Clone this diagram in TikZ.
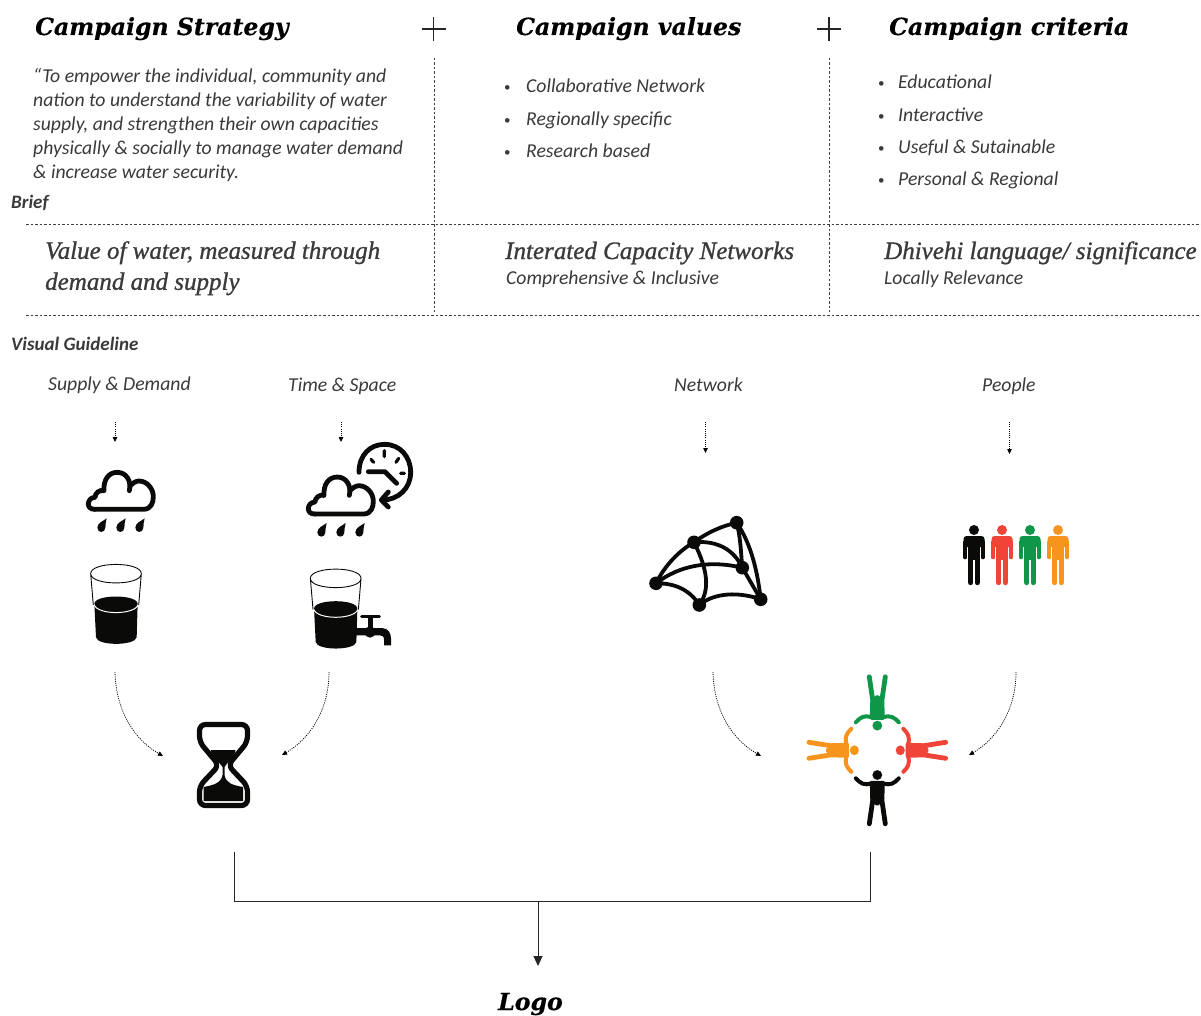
\documentclass[tikz,border=0pt]{standalone}
\usepackage{fontspec}
\setmainfont{Carlito}
\newfontfamily\headfont[FakeBold=0.4]{DejaVu Serif}
\newfontfamily\subfont[FakeBold=1]{Liberation Serif}
\usetikzlibrary{arrows.meta}
\definecolor{inkc}{HTML}{0A0A08}
\definecolor{txtc}{HTML}{3A3A3A}
\definecolor{pred}{HTML}{F04438}
\definecolor{pgreen}{HTML}{0F9648}
\definecolor{porange}{HTML}{F7941D}
\tikzset{
 headt/.style={anchor=base west,inner sep=0,text=black,font=\headfont\bfseries\itshape\fontsize{23.6}{26}\selectfont},
 subt/.style={anchor=base west,inner sep=0,text=txtc,font=\subfont\itshape\fontsize{25}{31}\selectfont,align=left},
 body/.style={anchor=base west,inner sep=0,text=txtc,font=\itshape\fontsize{19.7}{24}\selectfont,align=left},
 bullet/.style={anchor=base west,inner sep=0,text=txtc,font=\fontsize{13}{14}\selectfont},
 smallb/.style={anchor=base west,inner sep=0,text=txtc,font=\bfseries\itshape\fontsize{19}{20}\selectfont},
 rule/.style={draw=black!75,line width=0.7pt,dash pattern=on 2.5pt off 2pt},
 plusm/.style={draw=black!85,line width=1.8pt},
 dotarrow/.style={draw=black,line width=0.8pt,dash pattern=on 1pt off 1.2pt,-{Triangle[length=5pt,width=4.5pt,black,sep=0pt]}},
 bracket/.style={draw=black!85,line width=0.9pt},
 icon/.style={line width=4.8pt,draw=inkc,line cap=round,line join=round},
 glassl/.style={line width=0.9pt,draw=inkc},
 netl/.style={line width=3.8pt,draw=inkc},
}
% standing figure, head centre at #1,#2
\newcommand{\standman}[3]{\begin{scope}[shift={(#1,#2)}]
 \fill[#3] (0,0) circle (5);
 \fill[#3,rounded corners=3pt] (-10.5,17) -- (-10.5,6) -- (10.5,6) -- (10.5,17) -- cycle;
 \fill[#3] (-6,10) rectangle (6,30);
 \draw[#3,line width=3.6pt,line cap=round] (-8.75,12) -- (-8.75,27.5) (8.75,12) -- (8.75,27.5);
 \draw[#3,line width=5.4pt,line cap=round] (-3.3,28) -- (-3.3,52.5) (3.3,28) -- (3.3,52.5);
 \draw[white,line width=0.5pt] (0,33) -- (0,55);
 \end{scope}}
% figure of the ring, lying at the bottom before rotation
\newcommand{\ringman}[3]{\begin{scope}[shift={(877.3,750.3)},rotate=#1,yscale=#3]
 \fill[#2] (0,24.7) circle (4.9);
 \draw[#2,line width=4pt,line cap=round] (-21.5,28) .. controls (-17,33) and (-13,35.5) .. (-6,33) (21.5,28) .. controls (17,33) and (13,35.5) .. (6,33);
 \fill[#2,rounded corners=1.5pt] (-7.5,30.5) -- (7.5,30.5) -- (7,50) -- (0,56) -- (-7,50) -- cycle;
 \draw[#2,line width=4.8pt,line cap=round] (-4,46) -- (-8,73.5) (4,46) -- (8,73.5);
 \end{scope}}
% cloud in zoom units
\newcommand{\cloudicon}[2]{\begin{scope}[shift={(#1,#2)},scale=1/3]
 \draw[icon] (165,268) -- (310,268) .. controls (335,268) and (340,245) .. (340,230) .. controls (340,205) and (320,183) .. (297,183) .. controls (287,183) and (278,190) .. (270,197);
 \draw[icon] (268,212) .. controls (275,185) and (260,157) .. (232,157) .. controls (205,157) and (190,180) .. (192,212) .. controls (178,208) and (165,220) .. (165,232) .. controls (150,232) and (145,245) .. (145,252) .. controls (145,262) and (152,268) .. (165,268);
 \foreach \dx in {0,57,114}{
 \fill[inkc,shift={(\dx,0)}] (200,295) .. controls (192,302) and (172,308) .. (172,323) .. controls (172,340) and (196,340) .. (196,323) .. controls (196,312) and (198,305) .. (200,295) -- cycle;}
 \end{scope}}
% glass in zoom units
\newcommand{\glassicon}[2]{\begin{scope}[shift={(#1,#2)},scale=1/3]
 \fill[inkc] (163,552) .. controls (163,522) and (293,522) .. (293,552) -- (290,652) .. controls (285,678) and (172,678) .. (168,652) -- cycle;
 \draw[white,line width=1pt] (162,553) .. controls (170,586) and (286,586) .. (295,553);
 \draw[glassl] (152,461) .. controls (152,424) and (304,424) .. (304,461) .. controls (304,498) and (152,498) .. (152,461) -- (160,555) (304,461) -- (296,555);
 \end{scope}}
\begin{document}
\begin{tikzpicture}[x=1pt,y=-1pt]
\useasboundingbox (0,0) rectangle (1201,1016);
% headings
\node[headt] (h1) at (35,35) {Campaign Strategy};
\node[headt] (h2) at (516,35) {Campaign values};
\node[headt] (h3) at (889,35) {Campaign criteria};
\coordinate (p1) at (433.5,29);
\coordinate (p2) at (829,29);
\draw[plusm] ([xshift=-12pt]p1) -- ([xshift=12pt]p1) ([yshift=-12pt]p1) -- ([yshift=12pt]p1);
\draw[plusm] ([xshift=-12pt]p2) -- ([xshift=12pt]p2) ([yshift=-12pt]p2) -- ([yshift=12pt]p2);
% strategy quote
\node[body,anchor=north west] (quote) at (33,68) {“To empower the individual, community and\\nation to understand the variability of water\\supply, and strengthen their own capacities\\physically \& socially to manage water demand\\\& increase water security.};
% values
\foreach \n/\y/\t in {a/93/Collaborative Network,b/126/Regionally specific,c/158/Research based}{
 \node[body] (v\n) at (526,\y) {\t};
 \node[bullet] (vb\n) at (504,\y-1.5) {•};}
\foreach \n/\y/\t in {a/89/Educational,b/122/Interactive,c/154/Useful \& Sutainable,d/186/Personal \& Regional}{
 \node[body] (c\n) at (898,\y) {\t};
 \node[bullet] (cb\n) at (878,\y-1.5) {•};}
\node[smallb] (brief) at (11,209) {Brief};
% rules
\coordinate (r1a) at (26,224); \coordinate (r1b) at (1201,224);
\coordinate (r2a) at (26,315); \coordinate (r2b) at (1201,315);
\coordinate (v1a) at (434,58); \coordinate (v1b) at (434,312);
\coordinate (v2a) at (829,58); \coordinate (v2b) at (829,312);
\draw[rule] (r1a) -- (r1b);
\draw[rule] (r2a) -- (r2b);
\draw[rule] (v1a) -- (v1b);
\draw[rule] (v2a) -- (v2b);
% sub headings
\node[subt,anchor=north west] (s1) at (45,241) {Value of water, measured through\\demand and supply};
\node[subt] (s2) at (505,259) {Interated Capacity Networks};
\node[subt] (s3) at (884,259) {Dhivehi language/ significance};
\node[body] (s2b) at (506,284) {Comprehensive \& Inclusive};
\node[body] (s3b) at (884,284) {Locally Relevance};
\node[smallb] (vg) at (11,350) {Visual Guideline};
% guideline labels
\node[body] (g1) at (48,390) {Supply \& Demand};
\node[body] (g2) at (288,391) {Time \& Space};
\node[body] (g3) at (674,391) {Network};
\node[body] (g4) at (982,391) {People};
% short arrows
\coordinate (a1s) at (115,422); \coordinate (a1e) at (115,442);
\coordinate (a2s) at (341,422); \coordinate (a2e) at (341,442);
\coordinate (a3s) at (705.5,422); \coordinate (a3e) at (705.5,453);
\coordinate (a4s) at (1009.5,422); \coordinate (a4e) at (1009.5,454);
\draw[dotarrow] (a1s) -- (a1e);
\draw[dotarrow] (a2s) -- (a2e);
\draw[dotarrow] (a3s) -- (a3e);
\draw[dotarrow] (a4s) -- (a4e);
% curved arrows
\coordinate (b1s) at (115,672); \coordinate (b1e) at (163,756);
\coordinate (b2s) at (329,672); \coordinate (b2e) at (282,755);
\coordinate (b3s) at (713,672); \coordinate (b3e) at (761,756);
\coordinate (b4s) at (1016,672); \coordinate (b4e) at (969,755);
\draw[dotarrow] (b1s) .. controls (116,712) and (135,740) .. (b1e);
\draw[dotarrow] (b2s) .. controls (329,712) and (308,740) .. (b2e);
\draw[dotarrow] (b3s) .. controls (714,712) and (733,740) .. (b3e);
\draw[dotarrow] (b4s) .. controls (1016,712) and (995,740) .. (b4e);
% rain, glasses
\cloudicon{40}{420}
\cloudicon{260}{424.7}
\glassicon{40}{420}
\glassicon{259.7}{424.7}
% clock
\begin{scope}[shift={(40,420)},scale=1/3]
 \draw[icon] (957,157) .. controls (957,105) and (990,73) .. (1034,73) .. controls (1080,73) and (1112,110) .. (1112,157) .. controls (1112,205) and (1075,240) .. (1027,240);
 \draw[icon] (1045,216) -- (1024,240) -- (1045,261);
 \draw[icon,line width=3.2pt] (1033,92) -- (1033,110) (993,118) -- (1001,127) (1076,115) -- (1068,127) (1082,160) -- (1093,160);
 \draw[icon] (985,155) -- (1035,155) -- (1070,190);
 % tap
 \fill[inkc] (945,624) -- (1025,624) .. controls (1045,624) and (1053,640) .. (1053,655) -- (1053,676) -- (1032,676) -- (1032,660) .. controls (1032,650) and (1028,646) .. (1020,646) -- (945,646) -- cycle;
 \fill[inkc] (984,590) rectangle (998,640);
 \fill[inkc] (990,636) circle (17);
 \draw[inkc,line width=3.2pt,line cap=round] (965,590) -- (1018,590);
\end{scope}
% network
\coordinate (na) at (656,583.3);
\coordinate (nb) at (694,542.3);
\coordinate (nc) at (736.7,522.7);
\coordinate (nd) at (742.3,567.7);
\coordinate (ne) at (760.7,599.3);
\coordinate (nf) at (699.3,605);
\draw[netl] (na) .. controls (665,565) and (680,550) .. (nb);
\draw[netl] (nb) .. controls (708,532) and (722,526) .. (nc);
\draw[netl] (nc) .. controls (752,545) and (758,575) .. (ne);
\draw[netl] (nc) .. controls (741,540) and (741,555) .. (nd);
\draw[netl] (nd) -- (ne);
\draw[netl] (na) .. controls (680,565) and (710,560) .. (nd);
\draw[netl] (nb) .. controls (720,540) and (735,552) .. (nd);
\draw[netl] (nb) .. controls (708,570) and (710,590) .. (nf);
\draw[netl] (na) .. controls (675,583) and (690,590) .. (nf);
\draw[netl] (nf) .. controls (715,592) and (740,592) .. (ne);
\foreach \p in {na,nb,nc,nd,ne,nf}{\fill[inkc] (\p) circle (6.8);}
% people
\standman{974}{530}{inkc}
\standman{1002}{530}{pred}
\standman{1030}{530}{pgreen}
\standman{1058}{530}{porange}
\ringman{0}{inkc}{1}
\ringman{90}{pred}{0.93}
\ringman{180}{pgreen}{1}
\ringman{270}{porange}{0.93}
% hourglass
\draw[icon,line width=5.2pt,rounded corners=6pt] (223.3,724.5) -- (247.5,724.5) -- (247.5,742) -- (228,765.3) -- (247.5,786) -- (247.5,805.5) -- (199.5,805.5) -- (199.5,786) -- (219,765.3) -- (199.5,742) -- (199.5,724.5) -- cycle;
\fill[inkc] (210.7,750) -- (235.5,750) -- (235,753) -- (224.5,767) -- (224.5,775) .. controls (226,783) and (232,785) .. (243,787) -- (243,801) -- (203.5,801) -- (203.5,787) .. controls (214,785) and (221,783) .. (222.5,775) -- (222.5,767) -- (211.5,753) -- cycle;
% bracket
\coordinate (k1) at (234,852); \coordinate (k2) at (234,901);
\coordinate (k3) at (870,901); \coordinate (k4) at (870,852);
\coordinate (k5) at (538,901); \coordinate (k6) at (538,966);
\draw[bracket] (k1) -- (k2) -- (k3) -- (k4);
\draw[bracket,-{Triangle[length=10pt,width=9pt,black!85,sep=0pt]}] (k5) -- (k6);
\node[headt] (logo) at (498,1010) {Logo};
\end{tikzpicture}
\end{document}
